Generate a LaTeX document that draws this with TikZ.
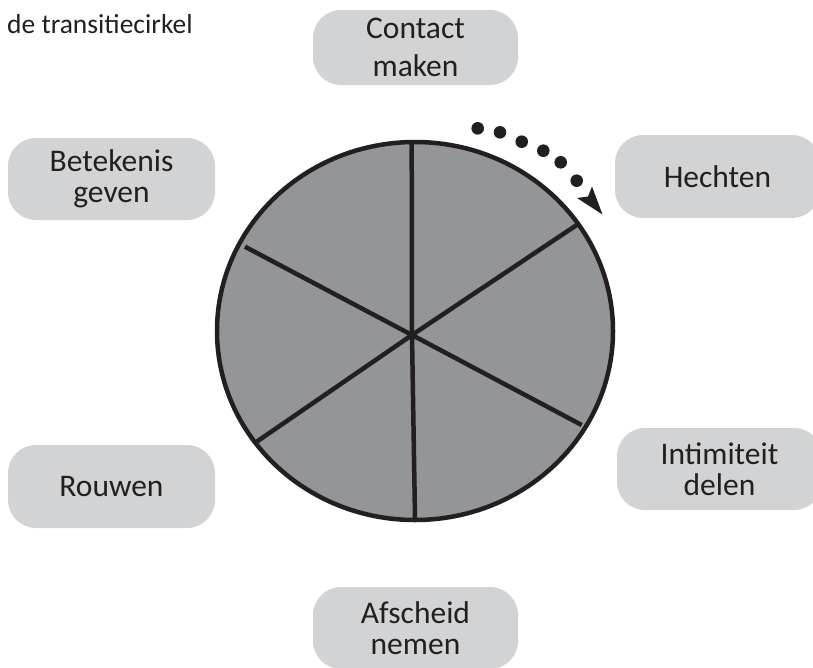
\documentclass[tikz,border=0pt]{standalone}
\usepackage{fontspec}
\setmainfont{Carlito}
\definecolor{ink}{HTML}{231F20}
\definecolor{wheel}{HTML}{939598}
\definecolor{boxgray}{HTML}{D1D3D4}
\tikzset{
  phase/.style={rounded corners=28pt, fill=boxgray, text=ink, align=center,
    font=\fontsize{31.5}{31.5}\selectfont, minimum width=205pt, inner sep=0pt},
  spoke/.style={draw=ink, line width=4.5pt},
  rim/.style={draw=ink, line width=4.5pt, fill=wheel},
  dot/.style={fill=ink}
}
\begin{document}
\begin{tikzpicture}[x=1pt,y=-1pt]
\useasboundingbox (0,0) rectangle (813,667);
\clip (0,0) rectangle (813,667);

\node[anchor=base west, inner sep=0pt, text=ink, font=\fontsize{27.5}{30}\selectfont] (title) at (7,33) {de transitiecirkel};

\node[phase, minimum height=75pt, font=\fontsize{31.5}{38}\selectfont] (contact) at (415.5,47.5) {Contact\\maken};
\node[phase, minimum height=83pt] (hechten) at (717.5,176.5) {Hechten};
\node[phase, minimum height=82pt] (intimiteit) at (719.5,469) {Intimiteit\\delen};
\node[phase, minimum width=207pt, minimum height=82pt] (betekenis) at (111.5,179) {Betekenis\\geven};
\node[phase, minimum width=207pt, minimum height=83pt] (rouwen) at (111.5,486.5) {Rouwen};
\node[phase, minimum height=82pt] (afscheid) at (415.5,628) {Afscheid\\nemen};

\draw[rim] (415,331) ellipse [x radius=198, y radius=189];
\coordinate (hub) at (412,335);
\coordinate (s1) at (411.7,143.3);
\coordinate (s2) at (576.7,225);
\coordinate (s3) at (581.7,425);
\coordinate (s4) at (415,518);
\coordinate (s5) at (256.7,441.7);
\coordinate (s6) at (245,246.7);
\foreach \s in {s1,s2,s3,s4,s5,s6} \draw[spoke] (hub) -- (\s);

\foreach \p in {(477.7,128.3),(500,132.3),(521.7,141.7),(543.3,150.7),(560.7,162.3),(576.7,180.7)}
  \fill[dot] \p circle [radius=6.3];
\fill[dot] (602.5,214.5) -- (577,198) -- (588,196.5) -- (592,186.5) -- cycle;
\end{tikzpicture}
\end{document}
